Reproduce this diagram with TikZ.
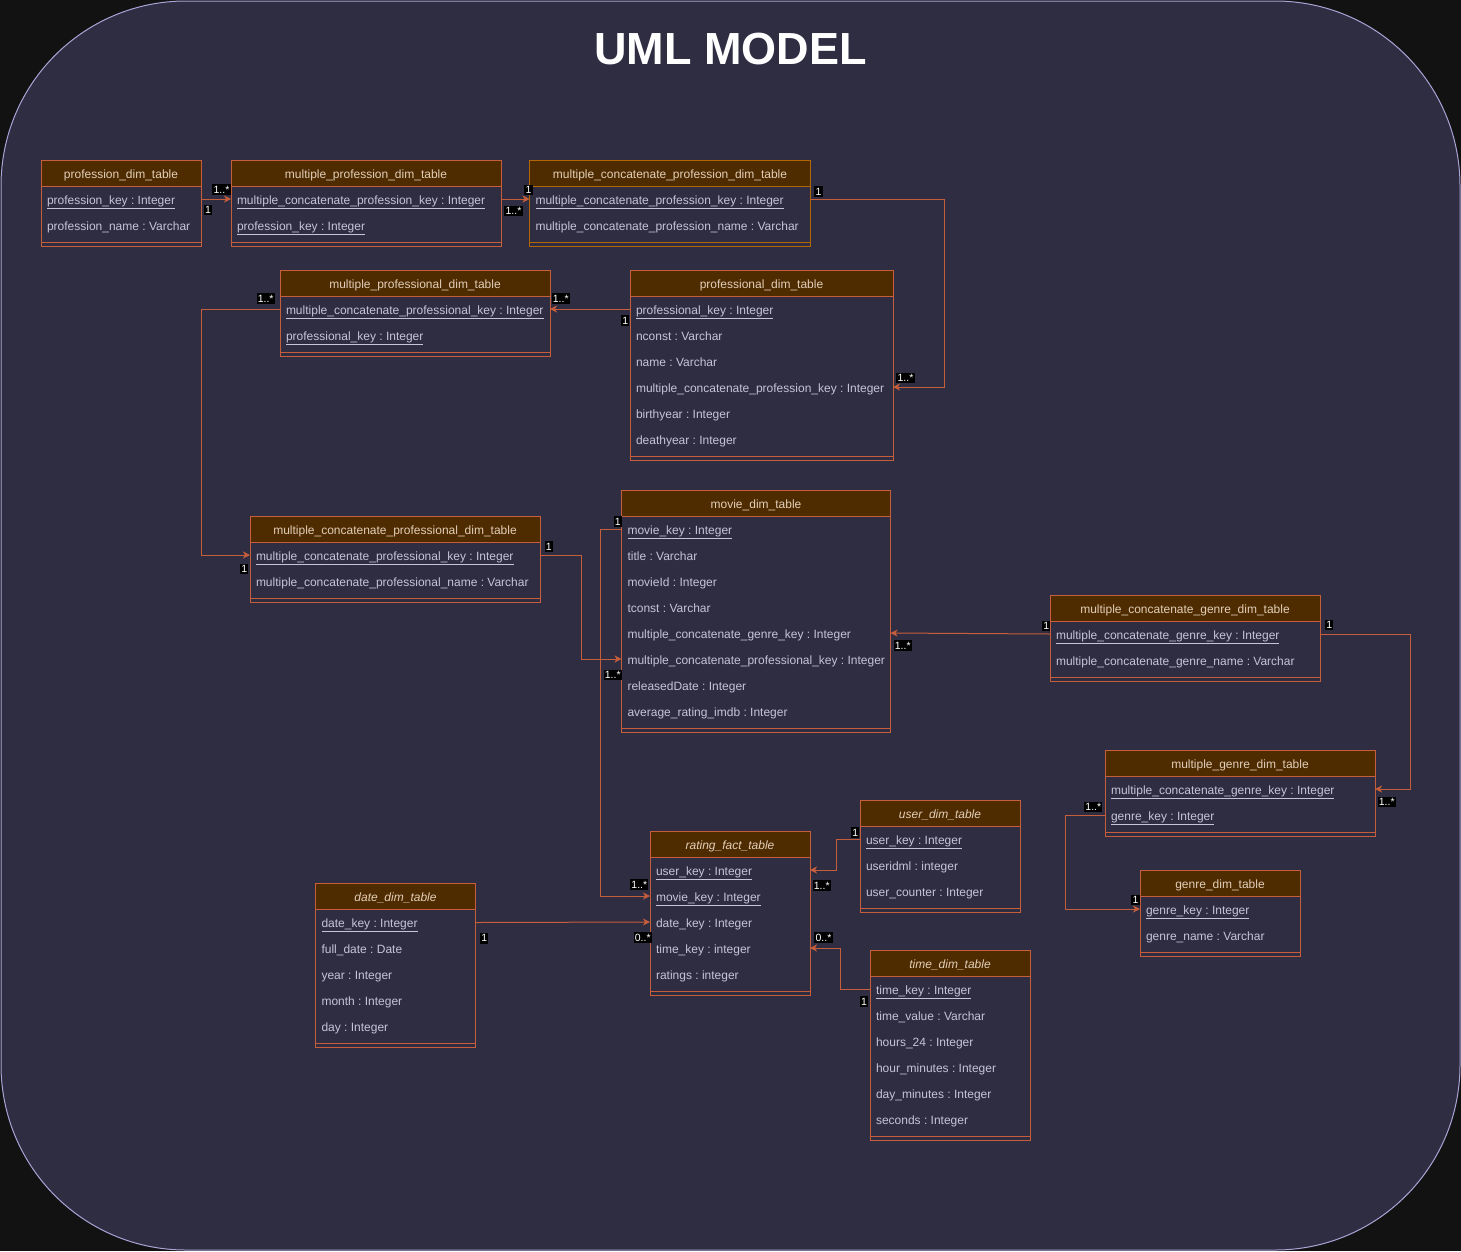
\documentclass[tikz,border=0pt]{standalone}
\usepackage{fontspec}
\setmainfont{Liberation Sans}
\usetikzlibrary{arrows.meta}
\frenchspacing

\definecolor{pagebg}{HTML}{121212}
\definecolor{canvas}{HTML}{2F2D42}
\definecolor{framec}{HTML}{A9A3D6}
\definecolor{hdrfill}{HTML}{4F2B00}
\definecolor{brd}{HTML}{C75E3B}
\definecolor{gold}{HTML}{B46504}
\definecolor{hdrtext}{HTML}{E2CFBA}
\definecolor{rowtext}{HTML}{C6C4D9}

\tikzset{
  thead/.style={fill=hdrfill, minimum height=26pt, inner sep=0pt, outer sep=0pt, text=hdrtext, text height=11pt, text depth=1pt, font=\fontsize{12}{14}\selectfont},
  trow/.style={minimum height=26pt, inner xsep=6pt, inner ysep=0pt, outer sep=0pt, text=rowtext, text height=11pt, text depth=1pt, font=\fontsize{12}{14}\selectfont},
  tline/.style={line width=1pt},
  link/.style={draw=brd, line width=1pt, -{Stealth[length=7pt,width=7pt,inset=2pt]}},
  mult/.style={fill=black, text=white, inner xsep=1.2pt, inner ysep=1.8pt, font=\fontsize{10.5}{10.5}\selectfont},
}

% table: [colour]{name}{x}{y}{width}{title}{rows}
\newcommand{\dbtable}[7][brd]{%
  \node[thead, draw=#1, minimum width=#5pt, anchor=north west] (#2) at (#3,#4) {#6};
  \pgfmathsetmacro{\rowwd}{#5-12}
  \foreach \fld [count=\i] in {#7} {
    \node[trow, anchor=north west] (#2-\i) at (#3,#4+26*\i) {\makebox[\rowwd pt][l]{\fld}};
    \xdef\lastrow{\i}
  }
  \draw[tline, draw=#1] (#2.north west) rectangle ([yshift=-8pt]#2-\lastrow.south east);
  \draw[tline, draw=#1] ([yshift=-4pt]#2-\lastrow.south west) -- ([yshift=-4pt]#2-\lastrow.south east);
}

\begin{document}
\begin{tikzpicture}[x=1pt, y=-1pt]
  \useasboundingbox (0,0) rectangle (1461,1251);
  \fill[pagebg] (0,0) rectangle (1461,1251);
  \draw[framec, fill=canvas, line width=1pt, rounded corners=185pt] (1,1) rectangle (1460,1250);

  \node[font=\bfseries\fontsize{45}{45}\selectfont, text=white] (title) at (730.5,49) {UML MODEL};

  % profession side
  \dbtable{prof}{41}{160}{160}{profession\_dim\_table}{\underline{profession\_key : Integer}, profession\_name : Varchar}
  \dbtable{mprof}{231}{160}{270}{multiple\_profession\_dim\_table}{\underline{multiple\_concatenate\_profession\_key : Integer}, \underline{profession\_key : Integer}}
  \dbtable[gold]{mcprof}{529.5}{160}{281}{multiple\_concatenate\_profession\_dim\_table}{\underline{multiple\_concatenate\_profession\_key : Integer}, multiple\_concatenate\_profession\_name : Varchar}
  \dbtable{mpro}{280}{270}{270}{multiple\_professional\_dim\_table}{\underline{multiple\_concatenate\_professional\_key : Integer}, \underline{professional\_key : Integer}}
  \dbtable{pro}{630}{270}{263}{professional\_dim\_table}{\underline{professional\_key : Integer}, nconst : Varchar, name : Varchar, multiple\_concatenate\_profession\_key : Integer, birthyear : Integer, deathyear : Integer}
  \dbtable{mcpro}{250}{516}{290}{multiple\_concatenate\_professional\_dim\_table}{\underline{multiple\_concatenate\_professional\_key : Integer}, multiple\_concatenate\_professional\_name : Varchar}

  % movie and genre
  \dbtable{movie}{621.5}{490}{269}{movie\_dim\_table}{\underline{movie\_key : Integer}, title : Varchar, movieId : Integer, tconst : Varchar, multiple\_concatenate\_genre\_key : Integer, multiple\_concatenate\_professional\_key : Integer, releasedDate : Integer, average\_rating\_imdb : Integer}
  \dbtable{mcgenre}{1050}{595}{270}{multiple\_concatenate\_genre\_dim\_table}{\underline{multiple\_concatenate\_genre\_key : Integer}, multiple\_concatenate\_genre\_name : Varchar}
  \dbtable{mgenre}{1105}{750}{270}{multiple\_genre\_dim\_table}{\underline{multiple\_concatenate\_genre\_key : Integer}, \underline{genre\_key : Integer}}
  \dbtable{genre}{1140}{870}{160}{genre\_dim\_table}{\underline{genre\_key : Integer}, genre\_name : Varchar}

  % fact table
  \dbtable{user}{860}{800}{160}{\itshape user\_dim\_table}{\underline{user\_key : Integer}, useridml : integer, user\_counter : Integer}
  \dbtable{rating}{650}{831}{160}{\itshape rating\_fact\_table}{\underline{user\_key : Integer}, \underline{movie\_key : Integer}, date\_key : Integer, time\_key : integer, ratings : integer}
  \dbtable{time}{870}{950}{160}{\itshape time\_dim\_table}{\underline{time\_key : Integer}, time\_value : Varchar, hours\_24 : Integer, hour\_minutes : Integer, day\_minutes : Integer, seconds : Integer}
  \dbtable{date}{315.5}{883.5}{160}{\itshape date\_dim\_table}{\underline{date\_key : Integer}, full\_date : Date, year : Integer, month : Integer, day : Integer}

  % links
  \draw[link] (prof-1.east) -- (mprof-1.west);
  \draw[link] (mprof-1.east) -- (mcprof-1.west);
  \draw[link] (mcprof-1.east) -- ++(134,0) |- (pro-4.east);
  \draw[link] (pro-1.west) -- (mpro-1.east);
  \draw[link] (mpro-1.west) -- ++(-79,0) |- (mcpro-1.west);
  \draw[link] (mcpro-1.east) -- ++(41,0) |- (movie-6.west);
  \draw[link] (mcgenre-1.west) -- (movie-5.east);
  \draw[link] (mcgenre-1.east) -- ++(90,0) |- (mgenre-1.east);
  \draw[link] (mgenre-2.west) -- ++(-40,0) |- (genre-1.west);
  \draw[link] (movie-1.west) -- ++(-21,0) |- (rating-2.west);
  \draw[link] (date-1.east) -- (rating-3.west);
  \draw[link] (user-1.west) -- ++(-24,0) |- (rating-1.east);
  \draw[link] (time-1.west) -- ++(-30,0) |- (rating-4.east);

  % multiplicities
  \node[mult] (ma1) at (221.5,189.5) {1..*};
  \node[mult] (ma2) at (208,210) {1};
  \node[mult] (mb1) at (528.5,190) {1};
  \node[mult] (mb2) at (513.5,211) {1..*};
  \node[mult] (mc1) at (818.5,191.5) {1};
  \node[mult] (mc2) at (905.5,378) {1..*};
  \node[mult] (md1) at (625.3,320.5) {1};
  \node[mult] (md2) at (560.7,298.5) {1..*};
  \node[mult] (me1) at (265.7,298.5) {1..*};
  \node[mult] (me2) at (244.3,569) {1};
  \node[mult] (mf1) at (548.7,546.7) {1};
  \node[mult] (mf2) at (612.7,675) {1..*};
  \node[mult] (mg1) at (1046.3,626) {1};
  \node[mult] (mg2) at (902.7,645.8) {1..*};
  \node[mult] (mh1) at (1329.3,625) {1};
  \node[mult] (mh2) at (1386.7,802) {1..*};
  \node[mult] (mi1) at (1093.3,807) {1..*};
  \node[mult] (mi2) at (1135.5,900) {1};
  \node[mult] (mj1) at (617.7,521.5) {1};
  \node[mult] (mj2) at (639.3,884.7) {1..*};
  \node[mult] (mk1) at (484.3,938.3) {1};
  \node[mult] (mk2) at (642.7,937.5) {0..*};
  \node[mult] (ml1) at (855.3,832.5) {1};
  \node[mult] (ml2) at (821.7,885.8) {1..*};
  \node[mult] (mm1) at (864,1001.7) {1};
  \node[mult] (mm2) at (823.5,937.5) {0..*};
\end{tikzpicture}
\end{document}
